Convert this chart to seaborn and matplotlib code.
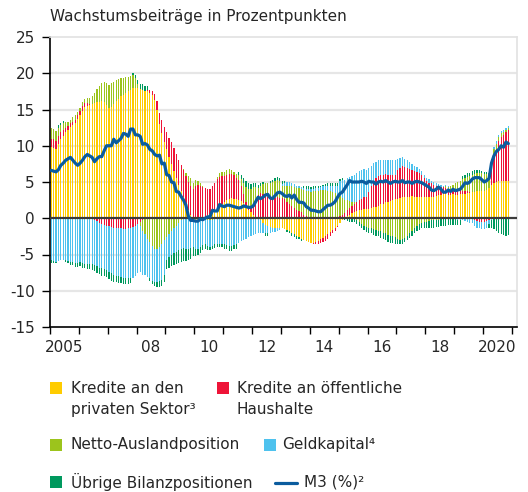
import numpy as np
import pandas as pd
import matplotlib
matplotlib.use("Agg")
import matplotlib.pyplot as plt
import seaborn as sns
from matplotlib.patches import Rectangle
from matplotlib.lines import Line2D

# ---------------- data (monthly, Jan 2005 - Nov 2020) ----------------
kredite_privat = [
    9.8, 9.7, 9.6, 10.3, 11.0, 11.4, 11.9, 12.2, 12.6, 12.9, 13.2, 13.7,
    14.2, 14.8, 15.3, 15.5, 15.6, 15.8, 15.9, 16.0, 16.1, 16.2, 16.0, 15.6,
    15.2, 15.4, 15.8, 16.2, 16.5, 16.8, 17.0, 17.3, 17.5, 17.7, 17.9, 18.0,
    18.0, 17.8, 17.7, 17.6, 17.5, 17.3, 17.0, 16.3, 15.0, 13.0, 11.8, 10.5,
    9.5, 8.4, 7.5, 6.5, 5.5, 4.6, 3.7, 2.9, 2.0, 1.1, 0.5, 0.0,
    -0.2, -0.3, -0.2, 0.0, 0.2, 0.4, 0.6, 0.9, 1.1, 1.4, 1.7, 2.0,
    2.2, 2.5, 2.7, 2.8, 2.7, 2.6, 2.5, 2.4, 2.1, 1.7, 1.2, 0.8,
    0.5, 0.2, 0.0, -0.3, -0.6, -0.9, -1.1, -1.2, -1.3, -1.4, -1.4, -1.3,
    -1.4, -1.5, -1.6, -1.8, -2.0, -2.2, -2.4, -2.6, -2.8, -3.0, -3.2, -3.3,
    -3.4, -3.4, -3.3, -3.1, -2.9, -2.7, -2.5, -2.2, -1.9, -1.6, -1.3, -1.0,
    -0.6, -0.3, 0.0, 0.3, 0.5, 0.7, 0.9, 1.0, 1.1, 1.2, 1.3, 1.3,
    1.3, 1.4, 1.5, 1.6, 1.7, 1.9, 2.0, 2.2, 2.3, 2.4, 2.5, 2.6,
    2.7, 2.8, 2.9, 2.9, 3.0, 3.0, 3.1, 3.0, 3.0, 3.0, 2.9, 2.9,
    2.9, 2.9, 3.0, 3.0, 3.1, 3.2, 3.2, 3.3, 3.3, 3.2, 3.2, 3.3,
    3.2, 3.2, 3.3, 3.3, 3.4, 3.5, 3.5, 3.6, 3.6, 3.7, 3.8, 3.8,
    3.8, 3.9, 4.2, 4.6, 4.9, 5.0, 5.1, 5.2, 5.2, 5.1, 5.2,
]
kredite_oeffentlich = [
    1.2, 1.2, 1.1, 1.0, 0.9, 0.8, 0.6, 0.5, 0.5, 0.4, 0.4, 0.5,
    0.6, 0.7, 0.6, 0.4, 0.2, 0.0, -0.2, -0.4, -0.6, -0.8, -0.9, -1.0,
    -1.1, -1.2, -1.3, -1.3, -1.4, -1.4, -1.5, -1.5, -1.4, -1.3, -1.2, -1.0,
    -0.8, -0.5, -0.3, 0.0, 0.2, 0.4, 0.6, 0.9, 1.2, 1.5, 1.8, 2.1,
    2.4, 2.7, 3.0, 3.2, 3.4, 3.5, 3.6, 3.7, 3.8, 3.9, 4.0, 4.0,
    4.5, 4.6, 4.5, 4.3, 4.0, 3.6, 3.5, 3.5, 3.8, 4.0, 4.0, 3.8,
    3.6, 3.5, 3.4, 3.3, 3.2, 3.0, 2.8, 2.0, 1.2, 0.6, 0.4, 0.6,
    1.5, 2.5, 3.2, 3.5, 3.4, 3.2, 3.0, 2.8, 2.7, 2.8, 2.9, 2.8,
    2.8, 2.6, 2.3, 2.0, 1.7, 1.4, 1.2, 1.0, 0.8, 0.5, 0.3, 0.1,
    0.0, -0.2, -0.3, -0.4, -0.5, -0.6, -0.7, -0.7, -0.6, -0.5, -0.4, -0.2,
    0.3, 0.5, 0.7, 0.8, 0.9, 1.0, 1.1, 1.3, 1.4, 1.5, 1.6, 1.7,
    2.3, 3.0, 3.6, 3.9, 4.1, 4.1, 4.0, 3.9, 3.7, 3.6, 3.5, 3.4,
    4.0, 4.2, 4.3, 4.2, 4.0, 3.8, 3.6, 3.5, 3.4, 3.2, 3.0, 2.6,
    2.2, 2.0, 1.8, 1.6, 1.4, 1.2, 1.1, 1.0, 0.9, 0.8, 0.7, 0.6,
    0.8, 0.7, 0.6, 0.5, 0.3, 0.2, 0.1, 0.0, -0.2, -0.4, -0.5, -0.5,
    -0.5, -0.4, -0.2, 2.0, 3.5, 4.5, 5.5, 6.0, 6.3, 6.8, 7.0,
]
netto_ausland = [
    1.5, 1.4, 1.3, 1.2, 1.0, 1.0, 0.8, 0.6, 0.5, 0.6, 0.6, 0.5,
    0.4, 0.5, 0.6, 0.7, 0.8, 1.0, 1.4, 1.8, 2.2, 2.5, 2.8, 3.0,
    3.2, 3.2, 3.0, 2.9, 2.7, 2.5, 2.4, 2.2, 2.0, 1.9, 1.8, 1.3,
    0.5, -0.5, -1.5, -2.2, -2.8, -3.3, -3.8, -4.2, -4.2, -3.9, -3.5, -3.0,
    -2.6, -2.2, -1.8, -1.4, -1.0, -0.6, -0.2, 0.2, 0.5, 0.8, 1.0, 0.9,
    0.8, 0.6, 0.4, 0.2, 0.0, -0.2, -0.3, -0.2, 0.0, 0.3, 0.5, 0.6,
    0.6, 0.7, 0.7, 0.6, 0.5, 0.5, 0.6, 1.0, 1.5, 2.0, 2.4, 2.6,
    2.3, 1.6, 1.0, 1.0, 1.3, 1.6, 1.9, 2.1, 2.3, 2.4, 2.4, 2.3,
    1.6, 1.8, 2.1, 2.4, 2.7, 2.9, 3.0, 3.2, 3.3, 3.4, 3.5, 3.6,
    3.6, 3.7, 3.8, 3.8, 3.9, 3.9, 3.9, 3.8, 3.7, 3.6, 3.5, 3.2,
    2.8, 2.3, 1.8, 1.4, 1.0, 0.6, 0.2, -0.2, -0.5, -0.8, -1.0, -1.2,
    -1.3, -1.4, -1.5, -1.6, -1.7, -1.8, -2.0, -2.1, -2.3, -2.4, -2.5, -2.6,
    -2.8, -3.0, -2.9, -2.7, -2.4, -2.1, -1.7, -1.3, -1.0, -0.8, -0.6, -0.5,
    -0.5, -0.4, -0.3, -0.3, -0.2, -0.2, -0.1, 0.0, 0.2, 0.3, 0.5, 0.7,
    0.9, 1.1, 1.3, 1.6, 1.8, 2.0, 2.2, 2.4, 2.5, 2.6, 2.5, 2.4,
    2.3, 2.2, 2.0, 1.6, 1.2, 0.8, 0.6, 0.5, 0.4, 0.3, 0.3,
]
geldkapital = [
    -5.8, -5.9, -6.0, -5.9, -5.8, -5.8, -5.8, -5.9, -6.0, -6.1, -6.2, -6.2,
    -6.1, -6.2, -6.3, -6.3, -6.3, -6.3, -6.3, -6.2, -6.2, -6.1, -6.1, -6.1,
    -6.3, -6.4, -6.5, -6.6, -6.6, -6.7, -6.8, -6.8, -6.9, -7.0, -7.0, -7.0,
    -6.8, -6.4, -6.0, -5.6, -5.3, -5.0, -4.8, -4.6, -4.6, -4.8, -5.0, -4.8,
    -3.2, -3.2, -3.3, -3.4, -3.6, -3.8, -4.0, -4.1, -4.2, -4.2, -4.1, -4.0,
    -4.0, -3.9, -3.8, -3.7, -3.6, -3.6, -3.6, -3.6, -3.6, -3.5, -3.5, -3.5,
    -3.6, -3.7, -3.8, -3.8, -3.7, -3.6, -3.4, -3.2, -3.0, -2.8, -2.6, -2.4,
    -2.3, -2.2, -2.1, -1.8, -1.5, -1.2, -1.0, -0.8, -0.6, -0.5, -0.4, -0.3,
    0.3, 0.5, 0.6, 0.6, 0.5, 0.4, 0.3, 0.2, 0.2, 0.3, 0.3, 0.4,
    0.4, 0.4, 0.4, 0.4, 0.4, 0.5, 0.6, 0.7, 0.8, 0.9, 1.0, 1.2,
    2.0, 2.5, 2.8, 3.0, 3.3, 3.5, 3.7, 3.9, 4.0, 4.0, 3.9, 3.7,
    3.3, 2.8, 2.5, 2.3, 2.2, 2.1, 2.0, 2.0, 2.0, 2.0, 2.0, 2.0,
    1.5, 1.3, 1.2, 1.1, 1.0, 0.9, 0.8, 0.7, 0.7, 0.6, 0.6, 0.5,
    0.5, 0.5, 0.4, 0.4, 0.3, 0.3, 0.3, 0.2, 0.2, 0.1, 0.0, -0.1,
    -0.1, -0.2, -0.2, -0.3, -0.4, -0.5, -0.6, -0.7, -0.8, -0.9, -0.9, -1.0,
    -1.0, -0.9, -0.6, -0.3, 0.2, 0.3, 0.3, 0.3, 0.3, 0.2, 0.2,
]
uebrige = [
    -0.4, -0.3, -0.2, 0.3, 0.3, 0.2, -0.2, -0.3, -0.4, -0.4, -0.5, -0.5,
    -0.5, -0.6, -0.6, -0.7, -0.7, -0.8, -0.8, -0.9, -0.9, -1.0, -1.0, -1.0,
    -1.0, -1.1, -1.0, -0.9, -0.9, -0.8, -0.8, -0.7, -0.7, -0.6, 0.4, 0.5,
    0.6, 0.7, 0.8, 0.6, 0.5, -0.4, -0.5, -0.6, -0.7, -0.8, -0.9, -1.0,
    -1.2, -1.4, -1.5, -1.6, -1.7, -1.8, -1.8, -1.8, -1.7, -1.6, -1.5, -1.2,
    -1.0, -0.9, -0.8, -0.7, -0.6, -0.6, -0.5, -0.5, -0.5, -0.5, -0.5, -0.5,
    -0.6, -0.6, -0.7, -0.7, -0.6, -0.6, 0.5, 0.6, 0.7, 0.8, 0.8, 0.7,
    0.6, 0.5, 0.4, 0.3, 0.3, -0.3, -0.3, 0.3, 0.3, 0.3, 0.4, 0.4,
    0.4, 0.3, -0.3, -0.3, -0.4, -0.4, -0.4, -0.3, -0.3, 0.3, 0.3, 0.3,
    0.3, 0.3, 0.2, 0.2, 0.2, 0.2, 0.2, 0.3, 0.3, 0.3, 0.4, 0.4,
    0.3, 0.2, -0.3, -0.4, -0.5, -0.5, -0.5, -0.6, -0.6, -0.6, -0.6, -0.7,
    -0.7, -0.7, -0.8, -0.8, -0.8, -0.9, -0.9, -0.9, -1.0, -1.0, -0.9, -0.9,
    -0.7, -0.6, -0.6, -0.6, -0.6, -0.6, -0.7, -0.7, -0.7, -0.8, -0.8, -0.8,
    -0.9, -0.9, -1.0, -1.0, -1.0, -1.0, -1.0, -1.0, -1.0, -0.9, -0.9, -0.8,
    -0.8, -0.7, -0.7, 0.4, 0.4, 0.5, 0.5, 0.5, 0.5, 0.4, 0.4, 0.3,
    0.3, 0.3, -0.5, -1.0, -1.5, -1.8, -2.0, -2.2, -2.3, -2.4, -2.3,
]
m3 = [
    6.6, 6.5, 6.4, 6.7, 7.3, 7.6, 8.0, 8.2, 8.4, 8.0, 7.6, 7.3,
    7.6, 8.0, 8.5, 8.8, 8.6, 8.4, 7.8, 8.2, 8.5, 8.5, 9.3, 10.0,
    10.0, 10.0, 10.9, 10.4, 10.7, 11.0, 11.7, 11.6, 11.3, 12.3, 12.3, 11.5,
    11.5, 11.3, 10.2, 10.3, 10.1, 9.5, 9.3, 8.8, 8.6, 8.7, 7.5, 7.6,
    6.0, 5.9, 5.0, 4.9, 3.7, 3.6, 3.0, 2.5, 1.8, 0.3, -0.3, -0.3,
    -0.4, -0.4, -0.1, -0.2, 0.0, 0.2, 0.2, 1.1, 1.0, 1.0, 1.9, 1.7,
    1.6, 1.8, 1.8, 1.7, 1.6, 1.5, 1.4, 1.5, 1.7, 1.6, 1.5, 1.5,
    1.7, 2.3, 2.9, 2.7, 2.9, 3.2, 3.3, 2.8, 2.7, 3.1, 3.5, 3.6,
    3.4, 3.1, 3.0, 3.2, 2.8, 3.2, 2.6, 2.2, 2.2, 2.1, 1.6, 1.4,
    1.1, 1.1, 1.0, 0.9, 0.9, 1.2, 1.5, 1.8, 1.8, 2.0, 2.3, 2.9,
    3.4, 3.6, 4.1, 4.6, 5.2, 5.0, 5.0, 5.0, 5.0, 5.1, 5.0, 4.8,
    5.1, 5.0, 5.0, 4.7, 5.0, 5.1, 5.0, 5.2, 5.0, 4.8, 5.0, 5.1,
    5.0, 5.0, 5.2, 4.9, 5.0, 5.0, 4.8, 5.0, 5.1, 5.0, 4.9, 4.7,
    4.5, 4.3, 3.9, 3.8, 4.0, 4.3, 4.0, 3.6, 3.6, 3.9, 3.7, 4.0,
    3.8, 3.9, 4.0, 4.4, 4.9, 4.8, 5.0, 5.4, 5.6, 5.6, 5.6, 5.3,
    5.0, 5.2, 5.5, 7.6, 8.6, 9.2, 9.5, 10.0, 9.8, 10.5, 10.3,
]

series_names = ["Kredite an den\nprivaten Sektor³", "Kredite an öffentliche\nHaushalte",
                "Netto-Auslandposition", "Geldkapital⁴", "Übrige Bilanzpositionen"]
year_labels = ["2005", "08", "10", "12", "14", "16", "18", "2020"]
year_label_years = [2005, 2008, 2010, 2012, 2014, 2016, 2018, 2020]
y_ticks = [25, 20, 15, 10, 5, 0, -5, -10, -15]

# ---------------- style ----------------
sns.set_theme(style="white")
plt.rcParams["font.family"] = ["DejaVu Sans"]
plt.rcParams["font.size"] = 11

c_yellow = "#FFCC00"
c_red = "#EE1438"
c_lgreen = "#9CC41C"
c_blue = "#4EC2EE"
c_dgreen = "#00995E"
c_line = "#0B5C9E"
colors = [c_yellow, c_red, c_lgreen, c_blue, c_dgreen]

n = len(m3)
x = np.arange(n)
comps = [np.array(kredite_privat), np.array(kredite_oeffentlich), np.array(netto_ausland),
         np.array(geldkapital), np.array(uebrige)]
for c in comps:
    assert len(c) == n

fig = plt.figure(figsize=(5.28, 4.92), dpi=100)
L, R, T, B = 50 / 528, 517 / 528, 1 - 37 / 492, 1 - 327 / 492
ax = fig.add_axes([L, B, R - L, T - B])

# grid lines
for g in [20, 15, 10, 5, -5, -10]:
    ax.axhline(g, color="#E6E6E6", lw=1.6, zorder=0)

pos_base = np.zeros(n)
neg_base = np.zeros(n)
for vals, col in zip(comps, colors):
    pos = np.where(vals > 0, vals, 0)
    neg = np.where(vals < 0, vals, 0)
    ax.bar(x, pos, bottom=pos_base, width=0.5, color=col, linewidth=0, zorder=2)
    ax.bar(x, neg, bottom=neg_base, width=0.5, color=col, linewidth=0, zorder=2)
    pos_base += pos
    neg_base += neg

ax.axhline(0, color="#3C3C3C", lw=1.6, zorder=3)

df = pd.DataFrame({"x": x, "m3": m3})
sns.lineplot(data=df, x="x", y="m3", ax=ax, color=c_line, linewidth=2.3, zorder=4)

ax.set_xlim(-0.5, 193.6)
ax.set_ylim(-15, 25)
ax.set_xlabel("")
ax.set_ylabel("")

# y axis
ax.set_yticks(y_ticks)
ax.set_yticklabels([str(v) for v in y_ticks], fontsize=11)
ax.tick_params(axis="y", direction="out", length=6, width=1, color="#000000", pad=5, left=True)

# x axis: ticks at year boundaries, labels mid-year
ax.set_xticks([-0.5 + 12 * k for k in range(17)])
ax.set_xticklabels([])
ax.tick_params(axis="x", which="major", direction="out", length=5, width=1, color="#000000", bottom=True)
ax.set_xticks([(yr - 2005) * 12 + 5.5 for yr in year_label_years], minor=True)
ax.set_xticklabels(year_labels, minor=True, fontsize=11)
ax.tick_params(axis="x", which="minor", length=0, pad=9)

for s in ["left", "bottom"]:
    ax.spines[s].set_color("#000000")
    ax.spines[s].set_linewidth(1.2)
for s in ["top", "right"]:
    ax.spines[s].set_color("#E2E2E2")
    ax.spines[s].set_linewidth(1.2)

fig.text(50 / 528, 1 - 16 / 492, "Wachstumsbeiträge in Prozentpunkten", fontsize=11,
         ha="left", va="center")

# ---------------- legend (manual) ----------------
W, H = 528.0, 492.0

def square(px, py, col):
    fig.patches.append(Rectangle((px / W, 1 - (py + 6) / H), 12 / W, 12 / H,
                                 transform=fig.transFigure, facecolor=col,
                                 edgecolor="none", figure=fig))

def label(px, py, txt):
    fig.text(px / W, 1 - py / H, txt, fontsize=11, ha="left", va="center", linespacing=1.45)

square(50, 388, c_yellow)
label(71, 399, series_names[0])
square(217, 388, c_red)
label(237, 399, series_names[1])
square(50, 445, c_lgreen)
label(71, 445, series_names[2])
square(264, 445, c_blue)
label(282, 445, series_names[3])
square(50, 482, c_dgreen)
label(71, 482, series_names[4])
fig.lines.append(Line2D([275 / W, 297 / W], [1 - 483 / H, 1 - 483 / H], transform=fig.transFigure,
                        color=c_line, lw=2.3, figure=fig))
label(304, 482, "M3 (%)²")

fig.savefig("out.png", dpi=100)
